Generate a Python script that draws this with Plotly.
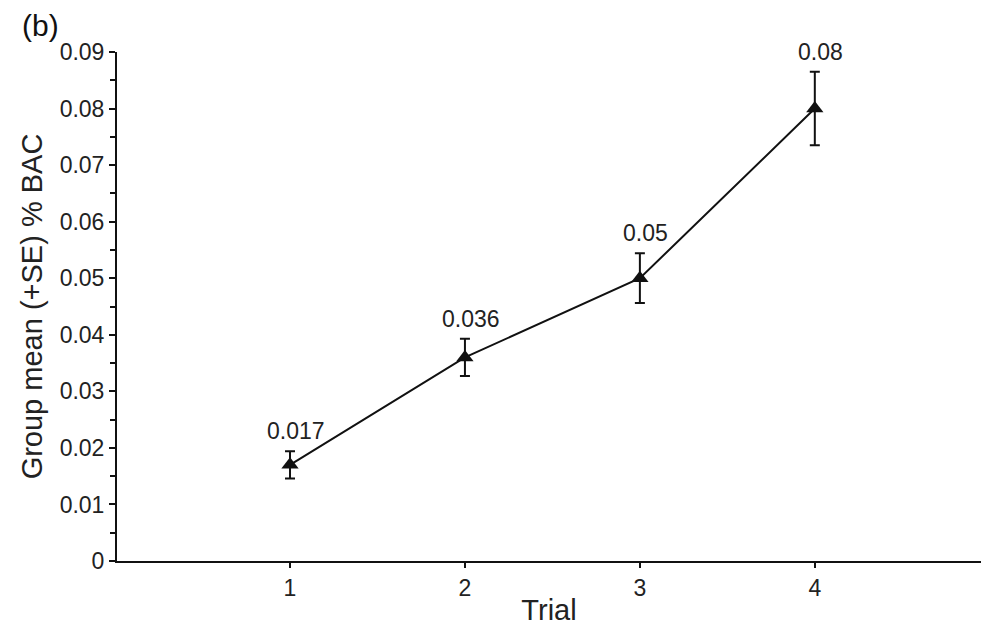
import plotly.graph_objects as go

# Blood alcohol concentration by trial
trials = [1, 2, 3, 4]
mean_bac = [0.017, 0.036, 0.05, 0.08]
se_bac = [0.0024, 0.0033, 0.0044, 0.0065]
point_labels = ["0.017", "0.036", "0.05", "0.08"]
y_tick_vals = [0, 0.01, 0.02, 0.03, 0.04, 0.05, 0.06, 0.07, 0.08, 0.09]
y_tick_text = ["0", "0.01", "0.02", "0.03", "0.04", "0.05", "0.06", "0.07", "0.08", "0.09"]

FONT = "Liberation Sans, Arial, Helvetica, sans-serif"
INK = "#111111"
TEXT = "#222222"

fig = go.Figure()
fig.add_trace(go.Scatter(
    x=trials,
    y=mean_bac,
    mode="lines+markers",
    line=dict(color=INK, width=2),
    marker=dict(symbol="triangle-up", size=15, color=INK),
    error_y=dict(type="data", array=se_bac, visible=True,
                 color=INK, thickness=2, width=5),
    showlegend=False,
    hoverinfo="skip",
))

# value labels sit just above each upper error cap
for x, y, se, txt in zip(trials, mean_bac, se_bac, point_labels):
    fig.add_annotation(x=x, y=y + se, text=txt, showarrow=False,
                       xanchor="center", yanchor="bottom",
                       xshift=6, yshift=5,
                       font=dict(family=FONT, size=23, color=TEXT))

fig.add_annotation(xref="paper", yref="paper", x=-0.112, y=1.088,
                   text="(b)", showarrow=False, xanchor="left", yanchor="top",
                   font=dict(family=FONT, size=30, color=INK))

fig.update_layout(
    width=981, height=626,
    margin=dict(l=117, r=0, t=52, b=65),
    paper_bgcolor="white", plot_bgcolor="white",
    font=dict(family=FONT, color=TEXT),
    xaxis=dict(
        range=[0.011, 4.95],
        tickvals=trials,
        ticktext=[str(t) for t in trials],
        ticks="outside", ticklen=5, tickwidth=2, tickcolor=INK,
        showline=True, linecolor=INK, linewidth=2,
        showgrid=False, zeroline=False,
        tickfont=dict(family=FONT, size=23, color=TEXT),
        title=dict(text="Trial", font=dict(family=FONT, size=29, color=TEXT),
                   standoff=2),
    ),
    yaxis=dict(
        range=[0, 0.09],
        tickvals=y_tick_vals,
        ticktext=y_tick_text,
        ticks="outside", ticklen=6, tickwidth=2, tickcolor=INK,
        minor=dict(dtick=0.005, ticks="outside", ticklen=5, tickwidth=2, tickcolor=INK),
        showline=True, linecolor=INK, linewidth=2,
        showgrid=False, zeroline=False,
        tickfont=dict(family=FONT, size=23, color=TEXT),
        title=dict(text="Group mean (+SE) % BAC",
                   font=dict(family=FONT, size=29, color=TEXT),
                   standoff=8),
    ),
)

fig.write_html("out.html")
